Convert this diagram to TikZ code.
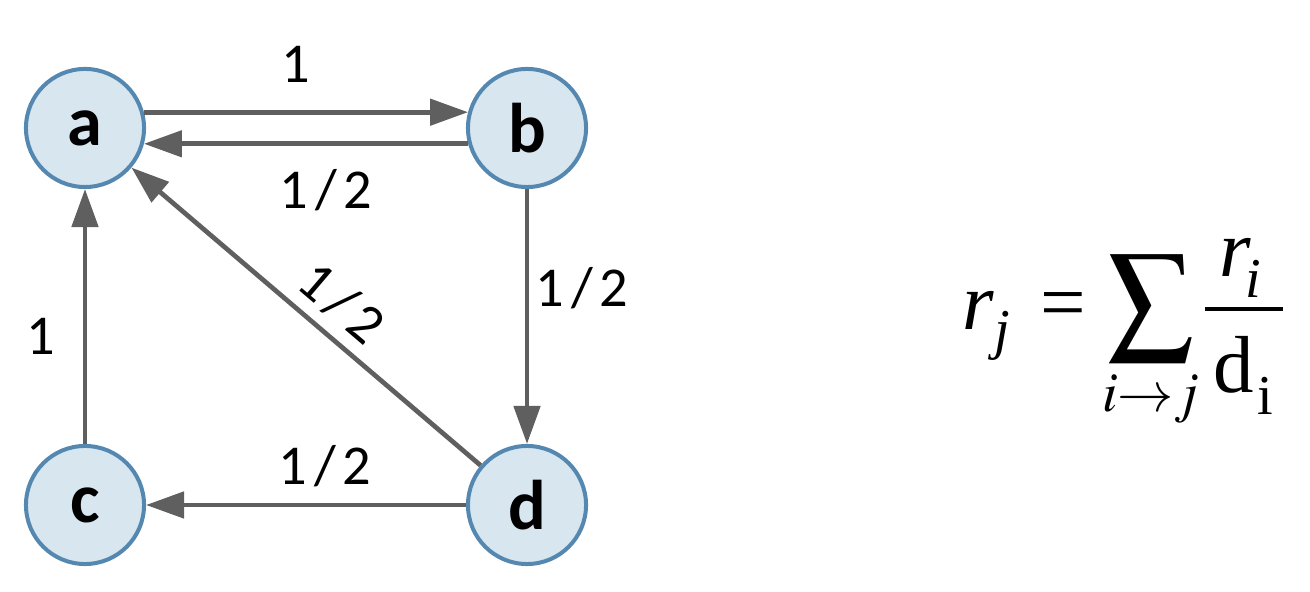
\documentclass[tikz,border=0pt]{standalone}
\usepackage{mathptmx}
\usepackage{graphicx}
\usepackage{fontspec}
\setmainfont{Liberation Serif}
\newfontfamily\labfont{Carlito}
\usetikzlibrary{arrows.meta}
\definecolor{nodefill}{HTML}{D8E6EF}
\definecolor{nodeline}{HTML}{5588B0}
\definecolor{edgegray}{HTML}{5F5F5F}
\newcommand\hlf{1\kern2pt/\kern2pt2}
\tikzset{
  vert/.style={circle, draw=nodeline, fill=nodefill, line width=1.14pt,
    minimum size=1.18cm, inner sep=0pt, font=\labfont\bfseries\fontsize{20}{23}\selectfont},
  edge/.style={draw=edgegray, line width=1.34pt, -{Triangle[length=10.8pt,width=7.4pt]}},
  elab/.style={font=\labfont\fontsize{16}{19}\selectfont, text=black, inner sep=0pt},
  big/.style={inner sep=0pt, font=\fontsize{23}{27}\selectfont},
  small/.style={inner sep=0pt, font=\fontsize{16}{19}\selectfont}
}
\begin{document}
\begin{tikzpicture}[x=0.01cm,y=-0.01cm]
\useasboundingbox (0,0) rectangle (1310,592);
\node[vert] (a) at (85,128) {a};
\node[vert] (b) at (527,128) {b};
\node[vert] (c) at (85,505) {c};
\node[vert] (d) at (527,505) {d};
\draw[edge] (a.15) -- (b.165);
\draw[edge] (b.195) -- (a.-15);
\draw[edge] (b.south) -- (d.north);
\draw[edge] (c.north) -- (a.south);
\draw[edge] (d.west) -- (c.east);
\draw[edge] (d) -- node[elab, sloped, above=3pt, pos=0.46] (ldiag) {\hlf} (a);
\node[elab] (lab) at (296,64) {1};
\node[elab] (lba) at (326,190) {\hlf};
\node[elab] (lbd) at (582,288) {\hlf};
\node[elab] (lca) at (41,336) {1};
\node[elab] (ldc) at (325,466) {\hlf};
% formula
\node[big, anchor=base west] (r) at (962,330) {\itshape r};
\node[small, anchor=base west] (rj) at (994,349) {\itshape j};
\node[big, anchor=base west] (eq) at (1040,330) {=};
\node[inner sep=0pt] (sum) at (1151,308) {\resizebox*{24.7pt}{30.4pt}{$\sum$}};
\node[small, anchor=base] (idx) at (1151,412) {$i{\to}j$};
\node[big, anchor=base west] (nr) at (1219,277) {\itshape r};
\node[small, anchor=base west] (ni) at (1245,298) {\itshape i};
\node[big, anchor=base west] (dd) at (1213,393) {d};
\node[small, anchor=base west] (di) at (1257,415) {i};
\coordinate (barl) at (1205,309);
\coordinate (barr) at (1283,309);
\draw[line width=0.9pt] (barl) -- (barr);
\end{tikzpicture}
\end{document}
